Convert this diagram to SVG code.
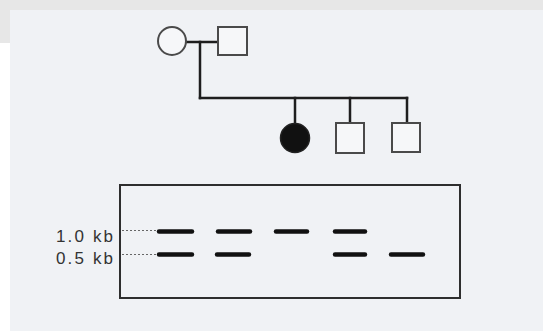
<svg xmlns="http://www.w3.org/2000/svg" width="543" height="331" viewBox="0 0 543 331">
<defs>
<style>
.ln{stroke:#1e1e1e;stroke-width:2.5;fill:none;stroke-linecap:square}
.sym{stroke:#4a4a4a;stroke-width:2;fill:#f6f7f9}
.band{stroke:#111;stroke-width:4.5;stroke-linecap:round}
.dot{stroke:#666;stroke-width:1;stroke-dasharray:2 2}
.lbl{font-family:"Liberation Sans",Arial,sans-serif;font-size:17px;fill:#333}
</style>
</defs>
<rect x="0" y="0" width="543" height="331" fill="#ffffff"/>
<rect x="10" y="10" width="533" height="321" fill="#f0f2f5"/>
<rect x="0" y="0" width="543" height="10" fill="#e7e7e7"/>
<rect x="0" y="10" width="10" height="33" fill="#e7e7e7"/>
<g id="connectors">
<line class="ln" x1="186" y1="42" x2="218" y2="42"/>
<line class="ln" x1="200" y1="42" x2="200" y2="98"/>
<line class="ln" x1="200" y1="98" x2="407" y2="98"/>
<line class="ln" x1="295" y1="98" x2="295" y2="124"/>
<line class="ln" x1="350" y1="98" x2="350" y2="123"/>
<line class="ln" x1="407" y1="98" x2="407" y2="123"/>
</g>
<g id="mother"><circle class="sym" cx="172" cy="41" r="14"/></g>
<g id="father"><rect class="sym" x="218" y="27" width="29" height="28"/></g>
<g id="daughter"><circle cx="295" cy="138" r="14.5" fill="#111" stroke="#222" stroke-width="1.5"/></g>
<g id="son1"><rect class="sym" x="336" y="123" width="28" height="30"/></g>
<g id="son2"><rect class="sym" x="392" y="123" width="28" height="29"/></g>
<g id="gel">
<rect x="120" y="185" width="340" height="113" fill="none" stroke="#2e2e2e" stroke-width="2"/>
<line class="dot" x1="122" y1="230.5" x2="157" y2="230.5"/>
<line class="dot" x1="122" y1="254.5" x2="157" y2="254.5"/>
<line class="band" x1="159" y1="231.5" x2="192" y2="231.5"/>
<line class="band" x1="218" y1="231.5" x2="250" y2="231.5"/>
<line class="band" x1="276" y1="231.5" x2="307" y2="231.5"/>
<line class="band" x1="335" y1="231.5" x2="365" y2="231.5"/>
<line class="band" x1="159" y1="254.5" x2="192" y2="254.5"/>
<line class="band" x1="217" y1="254.5" x2="249" y2="254.5"/>
<line class="band" x1="335" y1="254.5" x2="365" y2="254.5"/>
<line class="band" x1="391" y1="254.5" x2="423" y2="254.5"/>
</g>
<g id="labels">
<text class="lbl" x="56" y="242" textLength="57" lengthAdjust="spacing">1.0 kb</text>
<text class="lbl" x="56" y="264" textLength="57" lengthAdjust="spacing">0.5 kb</text>
</g>
</svg>
